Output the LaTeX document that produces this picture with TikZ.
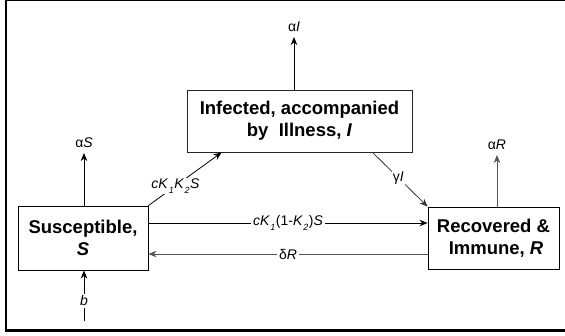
\documentclass[tikz,border=0pt]{standalone}
\usepackage{fontspec}
\setmainfont{Liberation Sans}
\usetikzlibrary{arrows.meta,calc}
\newcommand\lowsub[1]{\kern0.5pt\raisebox{-5pt}{\fontsize{9}{10}\selectfont\itshape #1}\kern0.5pt}
\definecolor{linegray}{gray}{0.33}
\begin{document}
\begin{tikzpicture}[x=1pt,y=-1pt,
  box/.style={draw=black,line width=0.9pt,inner sep=0pt,align=center,
    font=\fontsize{18.5}{22}\bfseries\selectfont},
  arr/.style={line width=0.8pt,-{Stealth[length=8pt,width=6.5pt,inset=2.5pt]}},
  lab/.style={font=\fontsize{14}{16}\selectfont,inner sep=1.5pt},
  onlab/.style={lab,fill=white,inner sep=2pt}]
\useasboundingbox (0,0) rectangle (565,335);
% frame
\draw[line width=1pt] (5,0.5) -- (565,0.5);
\draw[line width=2pt] (6,0) -- (6,331.5);
\draw[line width=2.2pt] (5,330.5) -- (565,330.5);
% boxes
\node[box,minimum width=130pt,minimum height=64pt] (S) at (83,238) {Susceptible,\\\textit{S}};
\node[box,draw=black!85,minimum width=225pt,minimum height=62pt] (I) at (299.5,121) {Infected, accompanied\\by~~Illness, \textit{I}};
\node[box,minimum width=131pt,minimum height=62pt] (R) at (493.5,238) {Recovered \&\\~Immune, \textit{R}};
% coordinates
\coordinate (aS) at (84,153);
\coordinate (aI) at (294,37);
\coordinate (aR) at (497,155);
\coordinate (bS) at (84,321);
% outflows
\draw[arr] (S.north -| aS) -- (aS) node[lab,above=3pt] {α\textit{S}};
\draw[arr] (I.north -| aI) -- (aI) node[lab,above=3pt] {α\textit{I}};
\draw[arr,linegray] (R.north -| aR) -- (aR) node[lab,above=3pt,text=black] {α\textit{R}};
% birth
\draw[arr] (bS) -- (S.south -| bS) node[onlab,pos=0.4] {\textit{b}};
% infection
\draw[arr] (S.north east) -- ($(I.south west)+(35,0)$)
  node[onlab,pos=0.37,inner sep=1pt] {\textit{cK}\lowsub{1}\textit{K}\lowsub{2}\textit{S}};
% recovery
\draw[arr,black!80] ($(I.south west)+(186,0)$) -- (R.north west)
  node[onlab,pos=0.47,inner sep=1pt,text=black] {γ\textit{I}};
% direct immunisation
\draw[arr] ($(S.east)+(0,-15)$) -- ($(R.west)+(0,-15)$)
  node[onlab,midway] {\textit{cK}\lowsub{1}(1-\textit{K}\lowsub{2})\textit{S}};
% loss of immunity
\draw[arr,linegray] ($(R.west)+(0,16)$) -- ($(S.east)+(0,16)$)
  node[onlab,midway,text=black] {δ\textit{R}};
\end{tikzpicture}
\end{document}
